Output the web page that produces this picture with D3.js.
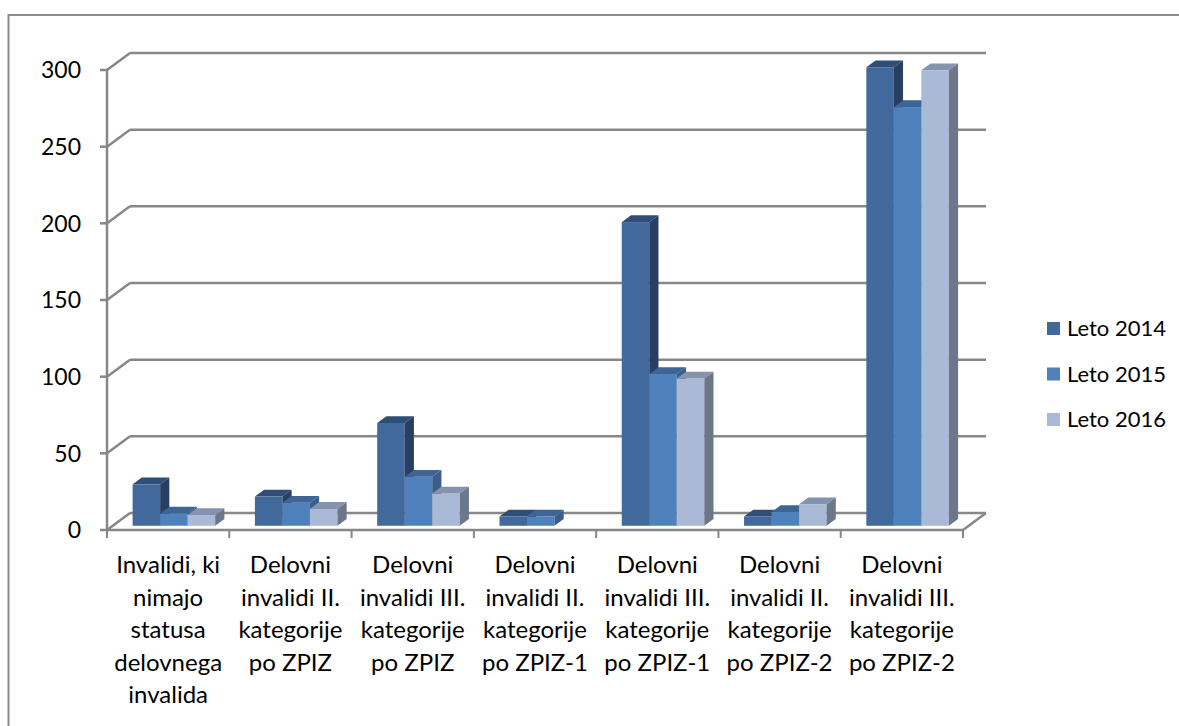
<!DOCTYPE html>
<html lang="sl">
<head>
<meta charset="UTF-8">
<title>Delovni invalidi po letih</title>
<style>
    body { margin: 0; background: #fff; }
    svg { display: block; }
    text { font-family: Lato, "Noto Sans", sans-serif; font-size: 23px; fill: #000; }
    .cat text, text.cat { font-size: 24px; }
    .legend text { font-size: 22px; }
</style>
</head>
<body>
<svg width="1179" height="726"></svg>
<script src="https://d3js.org/d3.v7.min.js"></script>
<script>
// data
const categories = [
    ["Invalidi, ki", "nimajo", "statusa", "delovnega", "invalida"],
    ["Delovni", "invalidi II.", "kategorije", "po ZPIZ"],
    ["Delovni", "invalidi III.", "kategorije", "po ZPIZ"],
    ["Delovni", "invalidi II.", "kategorije", "po ZPIZ-1"],
    ["Delovni", "invalidi III.", "kategorije", "po ZPIZ-1"],
    ["Delovni", "invalidi II.", "kategorije", "po ZPIZ-2"],
    ["Delovni", "invalidi III.", "kategorije", "po ZPIZ-2"]
];
const seriesNames = ["Leto 2014", "Leto 2015", "Leto 2016"];
const leto2014 = [27, 19, 67, 6, 198, 6, 299];
const leto2015 = [8, 15, 32, 6, 99, 9, 273];
const leto2016 = [7, 11, 21, 0, 96, 14, 297];
const yTicks = [0, 50, 100, 150, 200, 250, 300];

const values = [leto2014, leto2015, leto2016];
const faceColors = [
    { front: "#41699b", top: "#2f4d76", side: "#293f62" },
    { front: "#4f81bd", top: "#3d6596", side: "#395e8b" },
    { front: "#aab9d6", top: "#8594ae", side: "#6c788a" }
];

const svg = d3.select("svg");
const W = 1179, H = 726;

// outer chart border
svg.append("rect")
    .attr("x", 8.5).attr("y", 15)
    .attr("width", W).attr("height", H)
    .attr("fill", "none").attr("stroke", "#8a8a8a").attr("stroke-width", 2);

// front plane of the 3D box
const x0 = 107, x1 = 963;
const DX = 23, DY = -17;      // full depth offset
const y = d3.scaleLinear().domain([0, 300]).range([530, 70]);

const x = d3.scaleBand()
    .domain(d3.range(categories.length))
    .range([x0, x1])
    .paddingInner(0.325)
    .paddingOuter(0.1625);
const xs = d3.scaleBand().domain(d3.range(seriesNames.length)).range([0, x.bandwidth()]);

const gridColor = "#878787";
const grid = svg.append("g").attr("stroke", gridColor).attr("stroke-width", 2.5).attr("fill", "none");

// back wall gridlines + left wall diagonals
yTicks.forEach(t => {
    const yy = y(t);
    grid.append("line").attr("x1", x0 + DX).attr("x2", x1 + DX).attr("y1", yy + DY).attr("y2", yy + DY);
    grid.append("line").attr("x1", x0).attr("x2", x0 + DX).attr("y1", yy).attr("y2", yy + DY);
    grid.append("line").attr("x1", x0 - 7).attr("x2", x0).attr("y1", yy).attr("y2", yy);
});
// floor front edge, right diagonal, vertical axis
grid.append("line").attr("x1", x0).attr("x2", x1).attr("y1", y(0)).attr("y2", y(0));
grid.append("line").attr("x1", x1).attr("x2", x1 + DX).attr("y1", y(0)).attr("y2", y(0) + DY);
grid.append("line").attr("x1", x0).attr("x2", x0).attr("y1", y(300)).attr("y2", y(0));
// category ticks
d3.range(categories.length + 1).forEach(i => {
    const xx = x0 + i * x.step();
    grid.append("line").attr("x1", xx).attr("x2", xx).attr("y1", y(0)).attr("y2", y(0) + 8)
        .attr("stroke-width", 2);
});

// y labels
svg.append("g").selectAll("text").data(yTicks).join("text")
    .attr("x", 81).attr("y", d => y(d))
    .attr("dy", "0.36em")
    .attr("text-anchor", "end")
    .text(d => d);

// bars
const fd = 0.25, bd = 0.4;
const fx = fd * DX, fy = fd * DY, bx = bd * DX, by = bd * DY;
const bars = svg.append("g");
categories.forEach((c, i) => {
    values.forEach((vals, s) => {
        const v = vals[i];
        if (!v) return;
        const left = x(i) + xs(s) + fx;
        const right = left + xs.bandwidth();
        const base = y(0) + fy;
        const top = y(v) + fy;
        const col = faceColors[s];
        bars.append("rect")
            .attr("x", left).attr("y", top)
            .attr("width", right - left).attr("height", base - top)
            .attr("fill", col.front);
        bars.append("path")
            .attr("d", `M${left},${top}L${left + bx},${top + by}L${right + bx},${top + by}L${right},${top}Z`)
            .attr("fill", col.top);
        bars.append("path")
            .attr("d", `M${right},${top}L${right + bx},${top + by}L${right + bx},${base + by}L${right},${base}Z`)
            .attr("fill", col.side);
    });
});

// category labels
const labels = svg.append("g").attr("class", "cat");
categories.forEach((lines, i) => {
    const t = labels.append("text")
        .attr("text-anchor", "middle")
        .attr("x", x0 + (i + 0.5) * x.step())
        .attr("y", 573);
    lines.forEach((ln, k) => {
        t.append("tspan")
            .attr("x", x0 + (i + 0.5) * x.step())
            .attr("dy", k === 0 ? 0 : 32.5)
            .text(ln);
    });
});

// legend
const legend = svg.append("g").attr("class", "legend");
seriesNames.forEach((name, s) => {
    const ly = 322 + s * 45.5;
    legend.append("rect").attr("x", 1047).attr("y", ly)
        .attr("width", 13).attr("height", 13).attr("fill", faceColors[s].front);
    legend.append("text").attr("x", 1067).attr("y", ly + 6.5)
        .attr("dy", "0.36em").text(name);
});
</script>
</body>
</html>
